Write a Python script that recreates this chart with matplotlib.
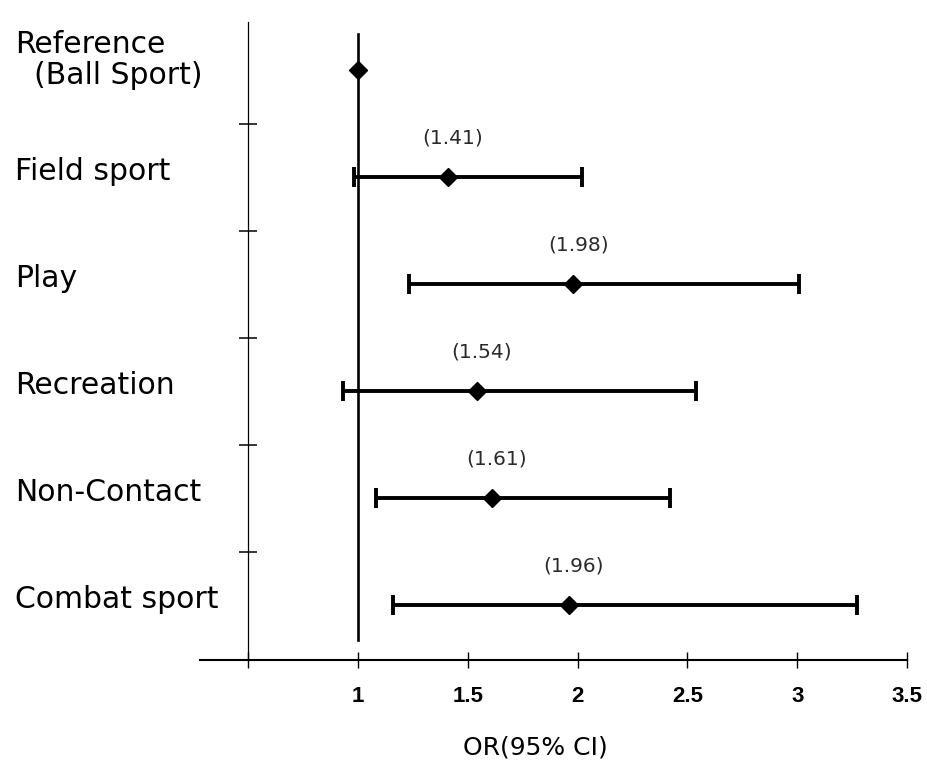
import numpy as np
import matplotlib
matplotlib.use("Agg")
import matplotlib.pyplot as plt
import matplotlib.transforms as mtransforms

plt.rcParams['font.family'] = ['DejaVu Sans']

# odds ratios (95% CI) by sport type
groups = ["Reference\n  (Ball Sport)", "Field sport", "Play", "Recreation",
          "Non-Contact", "Combat sport"]
odds = [1.0, 1.41, 1.98, 1.54, 1.61, 1.96]
ci_low = [np.nan, 0.98, 1.23, 0.93, 1.08, 1.16]
ci_high = [np.nan, 2.02, 3.01, 2.54, 2.42, 3.27]
xticks = [0.5, 1, 1.5, 2, 2.5, 3, 3.5]
xticklabels = ["", "1", "1.5", "2", "2.5", "3", "3.5"]

odds = np.array(odds)
lo = np.array(ci_low)
hi = np.array(ci_high)
ypos = np.arange(len(groups))

fig = plt.figure(figsize=(9.28, 7.65), dpi=100)
ax = fig.add_axes([200 / 928, 105 / 765, 707 / 928, 638 / 765])

# reference line at OR = 1
ax.axvline(1.0, ymin=0.031, ymax=0.981, color="black", linewidth=1.9, zorder=1)

# confidence intervals
has_ci = ~np.isnan(lo)
ax.errorbar(odds[has_ci], ypos[has_ci],
            xerr=[odds[has_ci] - lo[has_ci], hi[has_ci] - odds[has_ci]],
            fmt="none", ecolor="black", elinewidth=2.8, capsize=7.5,
            capthick=2.8, zorder=2)
ax.plot(odds, ypos, linestyle="none", marker="D", markersize=9,
        color="black", zorder=3)

# value labels above the points
for i in range(1, len(groups)):
    ax.annotate("(%.2f)" % odds[i], (odds[i], ypos[i]),
                xytext=(5, 39), textcoords="offset pixels",
                ha="center", va="center", fontsize=14.5, color="#2a2a2a")

# category labels on the left
lab_trans = mtransforms.blended_transform_factory(fig.transFigure, ax.transData)
for i, g in enumerate(groups):
    if "\n" in g:
        ax.annotate(g, (15 / 928, ypos[i]), xycoords=lab_trans,
                    xytext=(0, 10), textcoords="offset pixels",
                    ha="left", va="center", fontsize=21.5,
                    linespacing=1.05, annotation_clip=False)
    else:
        ax.annotate(g, (15 / 928, ypos[i]), xycoords=lab_trans,
                    xytext=(0, -3), textcoords="offset pixels",
                    ha="left", va="baseline", fontsize=21.5,
                    annotation_clip=False)

ax.set_xlim(0.28, 3.5)
ax.set_ylim(5.514, -0.449)

ax.spines["top"].set_visible(False)
ax.spines["right"].set_visible(False)
ax.spines["left"].set_position(("data", 0.5))
ax.spines["left"].set_linewidth(0.9)
ax.spines["bottom"].set_linewidth(1.5)

ax.set_xticks(xticks)
ax.set_xticklabels(xticklabels, fontsize=16, fontweight="bold",
                   family=["Liberation Sans Narrow", "Liberation Sans"])
ax.tick_params(axis="x", direction="inout", length=11.5, width=1.0, pad=13)
ax.set_yticks(ypos[:-1] + 0.5)
ax.set_yticklabels([])
ax.tick_params(axis="y", direction="inout", length=13.5, width=1.1)

fig.text(535 / 928, 1 - 748 / 765, "OR(95% CI)", ha="center", va="center",
         fontsize=18)

fig.savefig("out.png", dpi=100)
